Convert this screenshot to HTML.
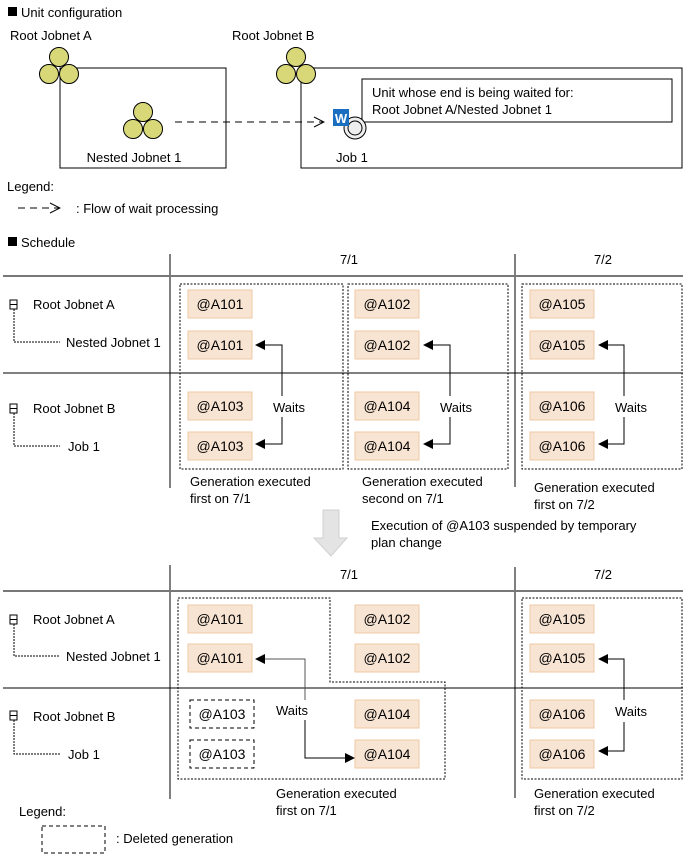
<!DOCTYPE html>
<html><head><meta charset="utf-8"><style>
html,body{margin:0;padding:0;background:#fff}
svg{display:block}
text{font-family:"Liberation Sans",sans-serif;font-size:13px;fill:#000}
.c{font-size:14px}
</style></head><body>
<svg width="684" height="857" viewBox="0 0 684 857" xmlns="http://www.w3.org/2000/svg">
<defs>
<marker id="ah" markerWidth="10" markerHeight="10" refX="9" refY="5" orient="auto" markerUnits="userSpaceOnUse"><path d="M0,0 L10,5 L0,10 z" fill="#000"/></marker>
<marker id="oh" markerWidth="12" markerHeight="12" refX="11" refY="6" orient="auto" markerUnits="userSpaceOnUse"><path d="M1,1 L11,6 L1,11" fill="none" stroke="#000" stroke-width="1"/></marker>
<g id="jn"><circle cx="0" cy="0" r="9.5" fill="#d8d878" stroke="#000"/><circle cx="-10" cy="17" r="9.5" fill="#d8d878" stroke="#000"/><circle cx="10" cy="17" r="9.5" fill="#d8d878" stroke="#000"/></g>
<g id="ti"><rect x="10" y="0" width="7" height="9" fill="#fff" stroke="#000"/><line x1="10" y1="4.5" x2="17" y2="4.5" stroke="#000"/></g>
</defs>

<!-- Unit configuration -->
<rect x="8" y="7" width="9" height="9" fill="#000"/>
<text x="21" y="17">Unit configuration</text>
<text x="10" y="40">Root Jobnet A</text>
<text x="232" y="40">Root Jobnet B</text>
<rect x="60" y="68" width="166" height="100" fill="#fff" stroke="#000"/>
<rect x="301" y="68" width="381" height="100" fill="#fff" stroke="#000"/>
<use href="#jn" x="59" y="57"/>
<use href="#jn" x="296" y="57"/>
<use href="#jn" x="143" y="112"/>
<text x="134" y="162" text-anchor="middle">Nested Jobnet 1</text>
<line x1="175" y1="122" x2="324" y2="122" stroke="#000" stroke-dasharray="7,5" marker-end="url(#oh)"/>
<rect x="362" y="79" width="310" height="43" fill="#fff" stroke="#000"/>
<text x="372" y="97">Unit whose end is being waited for:</text>
<text x="372" y="114">Root Jobnet A/Nested Jobnet 1</text>
<circle cx="355" cy="128" r="11" fill="#eee" stroke="#000"/>
<circle cx="355" cy="128" r="7" fill="#eee" stroke="#000"/>
<rect x="333" y="109" width="16" height="17" fill="#1a6fc0"/>
<text x="341" y="123" text-anchor="middle" style="fill:#fff;font-weight:bold;font-size:13px">W</text>
<text x="336" y="162">Job 1</text>
<text x="7" y="191">Legend:</text>
<line x1="18" y1="208" x2="60" y2="208" stroke="#000" stroke-dasharray="7,5" marker-end="url(#oh)"/>
<text x="76" y="213">: Flow of wait processing</text>
<rect x="8" y="237" width="9" height="9" fill="#000"/>
<text x="21" y="247">Schedule</text>

<!-- Table 1 -->
<line x1="170" y1="254" x2="170" y2="488" stroke="#000"/>
<line x1="515" y1="254" x2="515" y2="487" stroke="#000"/>
<line x1="3" y1="276" x2="683" y2="276" stroke="#777" stroke-width="2"/>
<line x1="3" y1="373" x2="683" y2="373" stroke="#000"/>
<text x="349" y="264" text-anchor="middle">7/1</text>
<text x="603" y="264" text-anchor="middle">7/2</text>
<use href="#ti" x="0" y="300"/>
<path d="M14,309 V342 H60" fill="none" stroke="#000" stroke-dasharray="2,1"/>
<text x="33" y="309">Root Jobnet A</text>
<text x="66" y="347">Nested Jobnet 1</text>
<use href="#ti" x="0" y="404"/>
<path d="M14,413 V446 H60" fill="none" stroke="#000" stroke-dasharray="2,1"/>
<text x="33" y="413">Root Jobnet B</text>
<text x="68" y="451">Job 1</text>
<g fill="none" stroke="#000" stroke-dasharray="2,1.5">
<rect x="180" y="284" width="163" height="185"/>
<rect x="348" y="284" width="160" height="185"/>
<rect x="522" y="284" width="160" height="185"/>
</g>
<g fill="#f8e4d2" stroke="#f0c8a4">
<rect x="188" y="290" width="64" height="28"/><rect x="188" y="331" width="64" height="28"/><rect x="188" y="392" width="64" height="28"/><rect x="188" y="432" width="64" height="28"/>
<rect x="355" y="290" width="64" height="28"/><rect x="355" y="331" width="64" height="28"/><rect x="355" y="392" width="64" height="28"/><rect x="355" y="432" width="64" height="28"/>
<rect x="530" y="290" width="64" height="28"/><rect x="530" y="331" width="64" height="28"/><rect x="530" y="392" width="64" height="28"/><rect x="530" y="432" width="64" height="28"/>
</g>
<text class="c" x="220" y="309" text-anchor="middle">@A101</text><text class="c" x="220" y="350" text-anchor="middle">@A101</text><text class="c" x="220" y="411" text-anchor="middle">@A103</text><text class="c" x="220" y="451" text-anchor="middle">@A103</text>
<text class="c" x="387" y="309" text-anchor="middle">@A102</text><text class="c" x="387" y="350" text-anchor="middle">@A102</text><text class="c" x="387" y="411" text-anchor="middle">@A104</text><text class="c" x="387" y="451" text-anchor="middle">@A104</text>
<text class="c" x="562" y="309" text-anchor="middle">@A105</text><text class="c" x="562" y="350" text-anchor="middle">@A105</text><text class="c" x="562" y="411" text-anchor="middle">@A106</text><text class="c" x="562" y="451" text-anchor="middle">@A106</text>
<g fill="none" stroke="#000">
<path d="M282,396 V345 H256" marker-end="url(#ah)"/><path d="M282,417 V444 H256" marker-end="url(#ah)"/>
<path d="M450,396 V345 H424" marker-end="url(#ah)"/><path d="M450,417 V444 H424" marker-end="url(#ah)"/>
<path d="M624,396 V345 H599" marker-end="url(#ah)"/><path d="M624,417 V444 H599" marker-end="url(#ah)"/>
</g>
<text x="289" y="412" text-anchor="middle">Waits</text>
<text x="456" y="412" text-anchor="middle">Waits</text>
<text x="631" y="412" text-anchor="middle">Waits</text>
<text x="190" y="486">Generation executed</text><text x="190" y="503">first on 7/1</text>
<text x="362" y="486">Generation executed</text><text x="362" y="503">second on 7/1</text>
<text x="534" y="492">Generation executed</text><text x="534" y="509">first on 7/2</text>

<path d="M323,510 H339 V538 H347 L331,556 L314,538 H323 Z" fill="#e4e4e4" stroke="#d0d0d0"/>
<text x="371" y="530">Execution of @A103 suspended by temporary</text>
<text x="371" y="547">plan change</text>

<!-- Table 2 -->
<line x1="170" y1="565" x2="170" y2="799" stroke="#000"/>
<line x1="515" y1="567" x2="515" y2="798" stroke="#000"/>
<line x1="3" y1="591" x2="683" y2="591" stroke="#777" stroke-width="2"/>
<line x1="3" y1="688" x2="683" y2="688" stroke="#000"/>
<text x="349" y="579" text-anchor="middle">7/1</text>
<text x="603" y="579" text-anchor="middle">7/2</text>
<use href="#ti" x="0" y="615"/>
<path d="M14,624 V656 H60" fill="none" stroke="#000" stroke-dasharray="2,1"/>
<text x="33" y="624">Root Jobnet A</text>
<text x="66" y="661">Nested Jobnet 1</text>
<use href="#ti" x="0" y="711"/>
<path d="M14,720 V754 H60" fill="none" stroke="#000" stroke-dasharray="2,1"/>
<text x="33" y="721">Root Jobnet B</text>
<text x="68" y="759">Job 1</text>
<g fill="none" stroke="#000" stroke-dasharray="2,1.5">
<path d="M178,598 H330 V682 H445 V779 H178 Z"/>
<rect x="522" y="598" width="160" height="181"/>
</g>
<g fill="#f8e4d2" stroke="#f0c8a4">
<rect x="188" y="605" width="64" height="28"/><rect x="188" y="644" width="64" height="28"/>
<rect x="355" y="605" width="64" height="28"/><rect x="355" y="644" width="64" height="28"/><rect x="355" y="700" width="64" height="28"/><rect x="355" y="740" width="64" height="28"/>
<rect x="530" y="605" width="64" height="28"/><rect x="530" y="644" width="64" height="28"/><rect x="530" y="700" width="64" height="28"/><rect x="530" y="740" width="64" height="28"/>
</g>
<g fill="#fff" stroke="#000" stroke-dasharray="4,3">
<rect x="190" y="700" width="64" height="28"/><rect x="190" y="740" width="64" height="28"/>
</g>
<text class="c" x="220" y="624" text-anchor="middle">@A101</text><text class="c" x="220" y="663" text-anchor="middle">@A101</text>
<text class="c" x="222" y="719" text-anchor="middle">@A103</text><text class="c" x="222" y="759" text-anchor="middle">@A103</text>
<text class="c" x="387" y="624" text-anchor="middle">@A102</text><text class="c" x="387" y="663" text-anchor="middle">@A102</text><text class="c" x="387" y="719" text-anchor="middle">@A104</text><text class="c" x="387" y="759" text-anchor="middle">@A104</text>
<text class="c" x="562" y="624" text-anchor="middle">@A105</text><text class="c" x="562" y="663" text-anchor="middle">@A105</text><text class="c" x="562" y="719" text-anchor="middle">@A106</text><text class="c" x="562" y="759" text-anchor="middle">@A106</text>
<g fill="none" stroke="#000">
<path d="M305,700 V659 H256" stroke="#555" marker-end="url(#ah)"/>
<path d="M305,720 V758 H354" marker-end="url(#ah)"/>
<path d="M624,700 V659 H599" marker-end="url(#ah)"/><path d="M624,722 V751 H599" marker-end="url(#ah)"/>
</g>
<text x="292" y="715" text-anchor="middle">Waits</text>
<text x="631" y="716" text-anchor="middle">Waits</text>
<text x="276" y="798">Generation executed</text><text x="276" y="815">first on 7/1</text>
<text x="534" y="798">Generation executed</text><text x="534" y="815">first on 7/2</text>
<text x="19" y="816">Legend:</text>
<rect x="42" y="826" width="63" height="27" fill="none" stroke="#000" stroke-dasharray="4,3"/>
<text x="116" y="843">: Deleted generation</text>
</svg>
</body></html>
